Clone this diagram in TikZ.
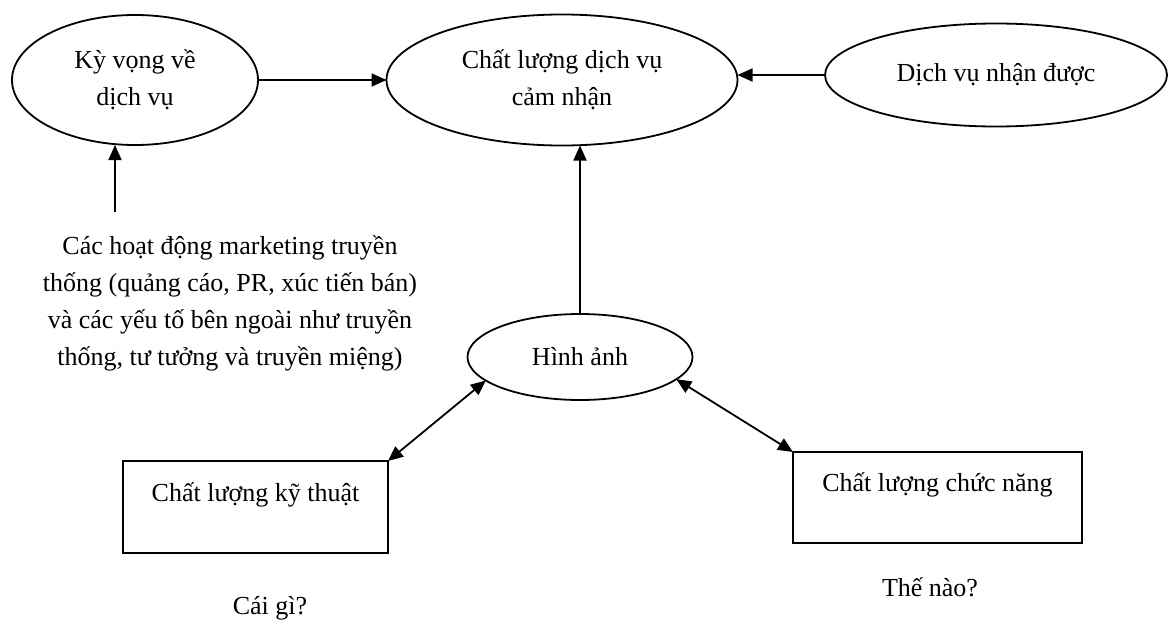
\documentclass[tikz,border=0pt]{standalone}
\usepackage{fontspec}
\setmainfont{Liberation Serif}
\usetikzlibrary{shapes.geometric,arrows.meta}
\begin{document}
\begin{tikzpicture}[x=0.5pt,y=-0.5pt,
  txt/.style={font=\fontsize{13}{18.5}\selectfont, align=center, inner sep=0pt},
  oval/.style={txt, draw, ellipse, line width=0.9pt, outer sep=0pt},
  boxnode/.style={txt, draw, rectangle, line width=0.9pt, outer sep=0pt, text height=6pt, text depth=12pt},
  conn/.style={line width=0.9pt, -{Triangle[length=7.5pt,width=6.5pt]}},
  dconn/.style={line width=0.9pt, {Triangle[length=7.5pt,width=6.5pt]}-{Triangle[length=7.5pt,width=6.5pt]}}
]
\useasboundingbox (0,0) rectangle (1170,621);
\node[oval, minimum width=246pt/2, minimum height=130pt/2] (ky) at (135,80) {Kỳ vọng về\\dịch vụ};
\node[oval, minimum width=351pt/2, minimum height=131pt/2] (cl) at (562,80) {Chất lượng dịch vụ\\cảm nhận};
\node[oval, minimum width=342pt/2, minimum height=103pt/2] (dv) at (996,75) {Dịch vụ nhận được};
\node[oval, minimum width=225pt/2, minimum height=86pt/2] (ha) at (580,357) {Hình ảnh};
\node[boxnode, minimum width=265pt/2, minimum height=92pt/2] (tech) at (255.5,507) {Chất lượng kỹ thuật};
\node[boxnode, minimum width=289pt/2, minimum height=91pt/2] (func) at (937.5,497.5) {Chất lượng chức năng};
\node[txt] (mk) at (230,303) {Các hoạt động marketing truyền\\thống (quảng cáo, PR, xúc tiến bán)\\và các yếu tố bên ngoài như truyền\\thống, tư tưởng và truyền miệng)};
\node[txt] (q1) at (270,608) {Cái gì?};
\node[txt] (q2) at (930,587) {Thế nào?};
\coordinate (m) at (115,212);
\draw[conn] (ky.east) -- (ky.east -| cl.west);
\draw[conn] (dv.west) -- (cl.east |- dv.west);
\draw[conn] (m) -- (m |- ky.south);
\draw[conn] (ha.north) -- (ha.north |- cl.south);
\draw[dconn] (tech.north east) -- (ha.194);
\draw[dconn] (func.north west) -- (ha.-13);
\end{tikzpicture}
\end{document}
